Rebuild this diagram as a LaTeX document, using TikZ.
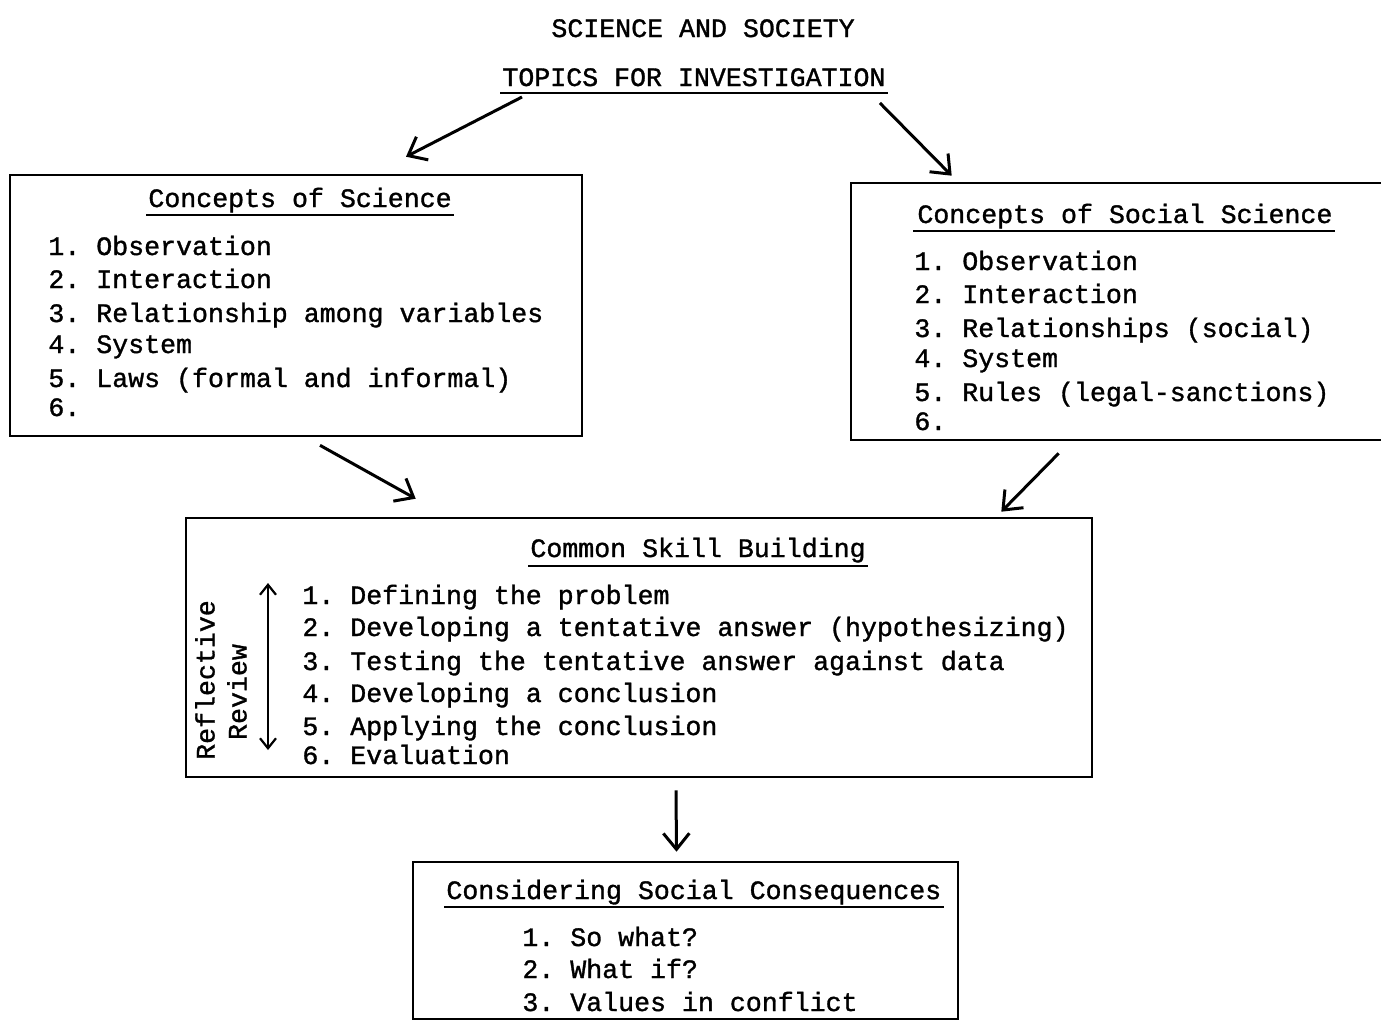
\documentclass[tikz,border=0pt]{standalone}
\usepackage{fontspec}
\setmonofont[FakeBold=1.2]{Liberation Mono}
\usepackage{tikz}
\usetikzlibrary{arrows.meta,calc,fit}

\tikzset{
  txt/.style={font=\ttfamily\fontsize{13.3bp}{16bp}\selectfont,inner sep=0pt,anchor=base west},
  box/.style={draw,line width=1.3bp,inner sep=0pt},
  uline/.style={line width=1bp},
  arr/.style={->,line width=1.5bp},
}

\begin{document}
\begin{tikzpicture}[x=0.5bp,y=-0.5bp,>={Straight Barb[length=8bp,width=13bp]}]
\useasboundingbox (0,0) rectangle (1381,1024);
%%
\node (head) at (551,37) [txt] {SCIENCE AND SOCIETY};
\node (topics) at (502,86) [txt] {TOPICS FOR INVESTIGATION};
\draw [uline] ($(topics.base west)+(-2,7)$) -- ($(topics.base east)+(2,7)$);
%
\node (sci) [box,fit={(10,175) (582,436)}] {};
\node (scit) at (148,207) [txt] {Concepts of Science};
\draw [uline] ($(scit.base west)+(-2,8)$) -- ($(scit.base east)+(2,8)$);
\node (s1) at (48,255) [txt] {1. Observation};
\node (s2) at (48,288) [txt] {2. Interaction};
\node (s3) at (48,322) [txt] {3. Relationship among variables};
\node (s4) at (48,353) [txt] {4. System};
\node (s5) at (48,387) [txt] {5. Laws (formal and informal)};
\node (s6) at (48,416) [txt] {6.};
%
\node (soc) [box,fit={(851,183) (1392,440)}] {};
\node (soct) at (917,223) [txt] {Concepts of Social Science};
\draw [uline] ($(soct.base west)+(-4,8)$) -- ($(soct.base east)+(2,8)$);
\node (c1) at (914,270) [txt] {1. Observation};
\node (c2) at (914,303) [txt] {2. Interaction};
\node (c3) at (914,337) [txt] {3. Relationships (social)};
\node (c4) at (914,367) [txt] {4. System};
\node (c5) at (914,401) [txt] {5. Rules (legal-sanctions)};
\node (c6) at (914,430) [txt] {6.};
%
\node (skill) [box,fit={(186,518) (1092,777)}] {};
\node (skillt) at (530,557) [txt] {Common Skill Building};
\draw [uline] ($(skillt.base west)+(-2,9)$) -- ($(skillt.base east)+(2,9)$);
\node (k1) at (302,604) [txt] {1. Defining the problem};
\node (k2) at (302,636) [txt] {2. Developing a tentative answer (hypothesizing)};
\node (k3) at (302,670) [txt] {3. Testing the tentative answer against data};
\node (k4) at (302,702) [txt] {4. Developing a conclusion};
\node (k5) at (302,735) [txt] {5. Applying the conclusion};
\node (k6) at (302,764) [txt] {6. Evaluation};
\node (refl) at (205,680) [txt,anchor=center,rotate=90] {Reflective};
\node (rev) at (237,692) [txt,anchor=center,rotate=90] {Review};
\coordinate (rtop) at (268,583);
\coordinate (rbot) at (268,750);
\draw [<->,line width=1.1bp,>={Straight Barb[length=5bp,width=8bp]}] (rtop) -- (rbot);
%
\node (cons) [box,fit={(413,862) (958,1019)}] {};
\node (const) at (446,899) [txt] {Considering Social Consequences};
\draw [uline] ($(const.base west)+(-2,8)$) -- ($(const.base east)+(2,8)$);
\node (q1) at (522,946) [txt] {1. So what?};
\node (q2) at (522,978) [txt] {2. What if?};
\node (q3) at (522,1011) [txt] {3. Values in conflict};
%
\draw [arr] ($(topics.base west)+(20,11)$) -- ($(sci.north)+(110,-17)$);
\draw [arr] ($(topics.base east)+(-6,17)$) -- ($(soc.north west)+(102,-6)$);
\draw [arr] ($(sci.south)+(24,8)$) -- ($(skill.north west)+(231,-18)$);
\draw [arr] ($(soc.south west)+(209,12)$) -- ($(skill.north east)+(-92,-5)$);
\draw [arr] ($(skill.south)+(37,12)$) -- ($(cons.north)+(-9,-9)$);
%
\end{tikzpicture}
\end{document}
